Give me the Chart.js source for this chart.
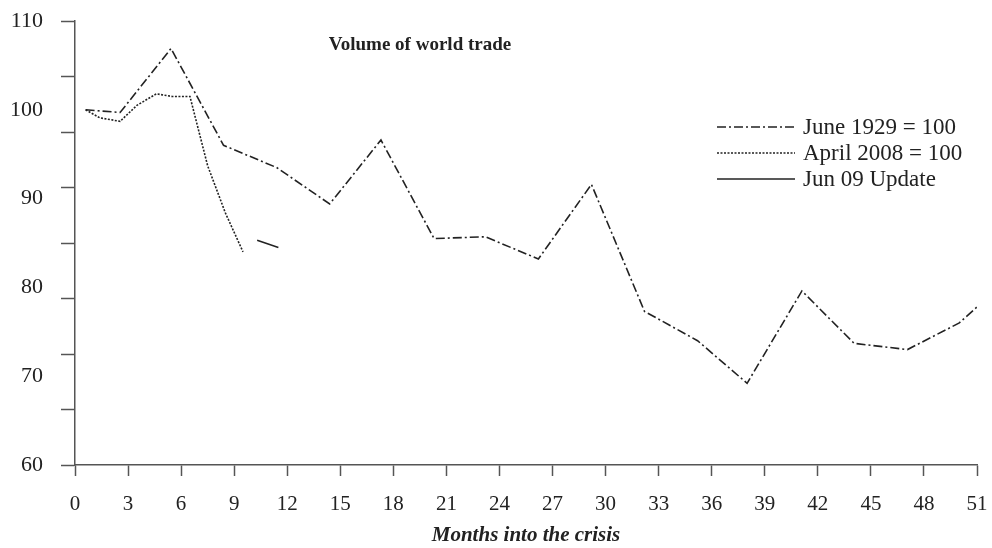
<!DOCTYPE html>
<html>
<head>
<meta charset="utf-8">
<script src="https://cdn.jsdelivr.net/npm/chart.js@4"></script>
<style>
  html, body { margin: 0; padding: 0; background: #fff; }
  #wrap { width: 992px; height: 548px; position: relative; }
</style>
</head>
<body>
<div id="wrap"><canvas id="trade"></canvas></div>
<script>
const months1929 = [0.6, 2.55, 5.43, 8.4, 11.4, 14.4, 17.3, 20.3, 23.2, 26.2, 29.2, 32.2, 35.2, 38.0, 41.1, 44.05, 47.07, 50.0, 51.0];
const trade1929 = [100.0, 99.7, 106.9, 96.0, 93.5, 89.4, 96.6, 85.5, 85.7, 83.2, 91.6, 77.3, 74.0, 69.2, 79.6, 73.7, 73.0, 76.0, 77.8];

const months2008 = [0.6, 1.4, 2.55, 3.5, 4.6, 5.5, 6.5, 7.5, 8.5, 9.5];
const trade2008 = [100.0, 99.1, 98.7, 100.5, 101.8, 101.5, 101.5, 93.7, 88.4, 84.0];

const monthsUpdate = [10.3, 11.5];
const tradeUpdate = [85.3, 84.5];

const seriesNames = ['June 1929 = 100', 'April 2008 = 100', 'Jun 09 Update'];
const yLabelValues = [60, 70, 80, 90, 100, 110];
const yMarkValues = [60, 66.25, 72.5, 78.75, 85, 91.25, 97.5, 103.75, 110];
const chartTitle = 'Volume of world trade';
const xTitle = 'Months into the crisis';

const SERIF = "'Liberation Serif', 'Times New Roman', serif";
const INK = '#222';
const AXIS = '#555';

Chart.defaults.font.family = SERIF;
Chart.defaults.color = INK;

function pts(xs, ys) {
  return xs.map((x, i) => ({ x: x, y: ys[i] }));
}

function lineSet(label, xs, ys, dash) {
  return {
    label: label,
    data: pts(xs, ys),
    borderColor: INK,
    borderWidth: 1.6,
    borderDash: dash,
    pointRadius: 0,
    tension: 0,
    fill: false,
  };
}

const allYTicks = [...new Set([...yLabelValues, ...yMarkValues])].sort((a, b) => a - b);

// title and legend sit inside the plot area, so draw them by hand
const insideText = {
  id: 'insideText',
  afterDraw(chart) {
    const ctx = chart.ctx;
    const area = chart.chartArea;
    ctx.save();
    ctx.fillStyle = INK;
    ctx.font = 'bold 19px ' + SERIF;
    ctx.textAlign = 'center';
    ctx.textBaseline = 'middle';
    ctx.fillText(chartTitle, area.left + 345, area.top + 24);

    ctx.font = '23px ' + SERIF;
    ctx.textAlign = 'left';
    chart.data.datasets.forEach((ds, i) => {
      const y = area.top + 106 + i * 26;
      const x0 = area.left + 642;
      ctx.strokeStyle = INK;
      ctx.lineWidth = 1.6;
      ctx.setLineDash(ds.borderDash || []);
      ctx.beginPath();
      ctx.moveTo(x0, y);
      ctx.lineTo(x0 + 78, y);
      ctx.stroke();
      ctx.setLineDash([]);
      ctx.fillText(ds.label, x0 + 86, y + 1);
    });
    ctx.restore();
  },
};

new Chart(document.getElementById('trade'), {
  type: 'line',
  data: {
    datasets: [
      lineSet(seriesNames[0], months1929, trade1929, [9, 3, 2, 3]),
      lineSet(seriesNames[1], months2008, trade2008, [2, 1.5]),
      lineSet(seriesNames[2], monthsUpdate, tradeUpdate, []),
    ],
  },
  options: {
    responsive: true,
    maintainAspectRatio: false,
    animation: false,
    layout: { padding: { top: 21, right: 15, left: 0, bottom: 0 } },
    plugins: {
      legend: { display: false },
      title: { display: false },
      tooltip: { enabled: false },
    },
    scales: {
      x: {
        type: 'linear',
        min: 0,
        max: 51,
        ticks: { stepSize: 3, autoSkip: false, maxRotation: 0, padding: 16, font: { size: 21 }, color: INK },
        grid: { drawOnChartArea: false, tickLength: 11, tickWidth: 1.5, tickColor: AXIS },
        border: { color: AXIS, width: 1.5 },
        title: {
          display: true,
          text: xTitle,
          font: { size: 21, weight: 'bold', style: 'italic' },
          color: INK,
          padding: { top: 0, bottom: 0 },
        },
        afterFit: (s) => {
          s.height = 83;
          s.paddingLeft = 0;
          s.paddingRight = 0;
        },
      },
      y: {
        type: 'linear',
        min: 60,
        max: 110,
        afterBuildTicks: (s) => { s.ticks = allYTicks.map((v) => ({ value: v })); },
        ticks: {
          autoSkip: false,
          padding: 18,
          font: { size: 22 },
          color: INK,
          callback: (v) => (yLabelValues.includes(v) ? String(v) : ''),
        },
        grid: {
          drawOnChartArea: false,
          tickLength: 14,
          tickWidth: 1.5,
          tickColor: (c) => (c.tick && yMarkValues.includes(c.tick.value) ? AXIS : 'rgba(0,0,0,0)'),
        },
        border: { color: AXIS, width: 1.5 },
        afterFit: (s) => {
          s.width = 75;
          s.paddingTop = 0;
          s.paddingBottom = 0;
        },
      },
    },
  },
  plugins: [insideText],
});
</script>
</body>
</html>
